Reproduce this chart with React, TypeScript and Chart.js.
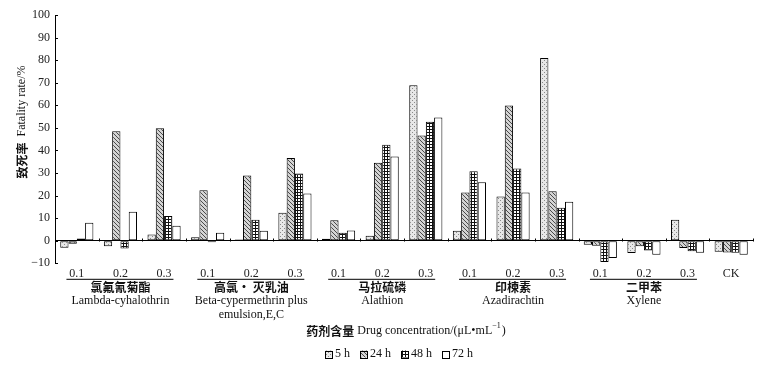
import React, { useEffect, useRef } from 'react';
import { Chart, registerables } from 'chart.js';

Chart.register(...registerables);

// ---------- data ----------
const categories = ['0.1', '0.2', '0.3', '0.1', '0.2', '0.3', '0.1', '0.2', '0.3', '0.1', '0.2', '0.3', '0.1', '0.2', '0.3', 'CK'];
const groupNamesZh = ['氯氟氰菊酯', '高氯· 灭乳油', '马拉硫磷', '印楝素', '二甲苯'];
const groupNamesEn = [['Lambda-cyhalothrin'], ['Beta-cypermethrin plus', 'emulsion,E,C'], ['Alathion'], ['Azadirachtin'], ['Xylene']];
const seriesLabels = ['5 h', '24 h', '48 h', '72 h'];
const h5 = [-3.1, -2.4, 2.8, 1.5, 0.5, 12.4, 0.9, 2.2, 68.9, 4.4, 19.6, 81.0, -1.8, -5.4, 9.3, -4.9];
const h24 = [-1.3, 48.5, 49.8, 22.4, 28.9, 36.7, 9.1, 34.5, 46.6, 21.4, 59.9, 21.9, -2.2, -2.5, -3.2, -5.2];
const h48 = [1.0, -3.4, 10.9, -0.7, 9.3, 29.8, 3.5, 42.5, 52.7, 30.8, 32.0, 14.6, -9.4, -4.3, -4.7, -5.3];
const h72 = [8.0, 12.8, 6.6, 3.5, 4.4, 20.9, 4.5, 37.3, 54.6, 25.9, 21.4, 17.3, -7.6, -6.2, -5.3, -6.2];
const yMin = -10;
const yMax = 100;
const yStep = 10;
const yTitleZh = '致死率';
const yTitleEn = 'Fatality rate/%';
const xTitleZh = '药剂含量';
const xTitleEn = 'Drug concentration/(μL•mL';
const xTitleSup = '−1';
const xTitleEnd = ')';

const SERIF = '"Liberation Serif", "Times New Roman", serif';
const CJK = '"Noto Sans CJK SC", sans-serif';

function makePattern(kind: string): CanvasPattern | string {
  const c = document.createElement('canvas');
  const g = c.getContext('2d')!;
  if (kind === 'dots') {
    c.width = 4; c.height = 4;
    g.fillStyle = '#e8e8e8'; g.fillRect(0, 0, 4, 4);
    g.fillStyle = '#8a8a8a';
    g.fillRect(0, 0, 1, 1); g.fillRect(2, 2, 1, 1);
  } else if (kind === 'diag') {
    c.width = 4; c.height = 4;
    g.fillStyle = '#d4d4d4'; g.fillRect(0, 0, 4, 4);
    g.fillStyle = '#4a4a4a';
    for (let i = 0; i < 4; i++) g.fillRect(i, i, 1, 1);
  } else if (kind === 'grid') {
    c.width = 3; c.height = 3;
    g.fillStyle = '#111'; g.fillRect(0, 0, 3, 3);
    g.fillStyle = '#fff'; g.fillRect(1, 1, 2, 2);
  } else {
    return '#ffffff';
  }
  return g.createPattern(c, 'repeat')!;
}

const decorPlugin = {
  id: 'decor',
  afterDraw(chart: any) {
    const ctx: CanvasRenderingContext2D = chart.ctx;
    const area = chart.chartArea;
    const xs = chart.scales.x;
    const ys = chart.scales.y;
    ctx.save();
    ctx.strokeStyle = '#000';
    ctx.lineWidth = 1;
    // inward y ticks
    ys.ticks.forEach((t: any) => {
      const py = Math.round(ys.getPixelForValue(t.value)) + 0.5;
      ctx.beginPath();
      ctx.moveTo(area.left, py);
      ctx.lineTo(area.left + 3, py);
      ctx.stroke();
    });
    // category boundary ticks on zero line
    const y0 = Math.round(ys.getPixelForValue(0)) + 0.5;
    for (let i = 1; i <= categories.length; i++) {
      const px = Math.round(xs.getPixelForValue(i - 0.5)) + 0.5;
      ctx.beginPath();
      ctx.moveTo(px, y0);
      ctx.lineTo(px, y0 - 3);
      ctx.stroke();
    }
    // group underlines and names
    ctx.fillStyle = '#111';
    ctx.textAlign = 'center';
    ctx.textBaseline = 'middle';
    const lineY = area.bottom + 16;
    for (let gi = 0; gi < groupNamesZh.length; gi++) {
      const cx = xs.getPixelForValue(gi * 3 + 1);
      ctx.strokeStyle = '#333';
      ctx.lineWidth = 1.3;
      ctx.beginPath();
      ctx.moveTo(cx - 54, lineY);
      ctx.lineTo(cx + 53, lineY);
      ctx.stroke();
      ctx.font = `bold 12px ${CJK}`;
      ctx.fillText(groupNamesZh[gi], cx, lineY + 8);
      ctx.font = `12px ${SERIF}`;
      groupNamesEn[gi].forEach((s, k) => {
        ctx.fillText(s, cx, lineY + 22 + k * 14);
      });
    }
    // x title
    const tY = 331;
    ctx.textAlign = 'left';
    ctx.font = `bold 12px ${CJK}`;
    const wZh = ctx.measureText(xTitleZh).width;
    ctx.font = `12px ${SERIF}`;
    const wEn = ctx.measureText(' ' + xTitleEn).width;
    ctx.font = `8px ${SERIF}`;
    const wSup = ctx.measureText(xTitleSup).width;
    ctx.font = `12px ${SERIF}`;
    const wEnd = ctx.measureText(xTitleEnd).width;
    const total = wZh + wEn + wSup + wEnd + 1;
    let tx = 406 - total / 2;
    ctx.font = `bold 12px ${CJK}`;
    ctx.fillText(xTitleZh, tx, tY);
    tx += wZh;
    ctx.font = `12px ${SERIF}`;
    ctx.fillText(' ' + xTitleEn, tx, tY);
    tx += wEn;
    ctx.font = `8px ${SERIF}`;
    ctx.fillText(xTitleSup, tx, tY - 5);
    tx += wSup + 1;
    ctx.font = `12px ${SERIF}`;
    ctx.fillText(xTitleEnd, tx, tY);

    // legend
    const lY = 354;
    const box = 7;
    const ds = chart.data.datasets;
    ctx.font = `12px ${SERIF}`;
    const widths = ds.map((d: any) => box + 3 + ctx.measureText(d.label).width);
    const gap = 10;
    const lTotal = widths.reduce((a: number, b: number) => a + b, 0) + gap * (ds.length - 1);
    let lx = 399 - lTotal / 2;
    ds.forEach((d: any, i: number) => {
      ctx.fillStyle = d.backgroundColor;
      ctx.fillRect(lx, lY - box / 2, box, box);
      ctx.strokeStyle = '#000';
      ctx.lineWidth = 1;
      ctx.strokeRect(Math.round(lx) + 0.5, Math.round(lY - box / 2) + 0.5, box, box);
      ctx.fillStyle = '#111';
      ctx.fillText(d.label, lx + box + 3, lY);
      lx += widths[i] + gap;
    });

    // y title (rotated)
    ctx.save();
    ctx.translate(22, 122);
    ctx.rotate(-Math.PI / 2);
    ctx.font = `bold 12px ${CJK}`;
    const yz = ctx.measureText(yTitleZh).width;
    ctx.font = `12px ${SERIF}`;
    const ye = ctx.measureText('  ' + yTitleEn).width;
    let yx = -(yz + ye) / 2;
    ctx.fillStyle = '#111';
    ctx.font = `bold 12px ${CJK}`;
    ctx.fillText(yTitleZh, yx, 0);
    yx += yz;
    ctx.font = `12px ${SERIF}`;
    ctx.fillText('  ' + yTitleEn, yx, 0);
    ctx.restore();

    ctx.restore();
  },
};

export default function App() {
  const ref = useRef<HTMLCanvasElement>(null);
  useEffect(() => {
    const canvas = ref.current!;
    const kinds = ['dots', 'diag', 'grid', 'white'];
    const series = [h5, h24, h48, h72];
    const chart = new Chart(canvas, {
      type: 'bar',
      data: {
        labels: categories,
        datasets: series.map((d, i) => ({
          label: seriesLabels[i],
          data: d,
          backgroundColor: makePattern(kinds[i]) as any,
          borderColor: '#000',
          borderWidth: 1,
          borderSkipped: false,
          categoryPercentage: 0.76,
          barPercentage: 1.0,
        })),
      },
      options: {
        animation: false,
        responsive: false,
        maintainAspectRatio: false,
        layout: { padding: { top: 15, right: 29, left: 0, bottom: 0 } },
        plugins: {
          legend: { display: false },
          tooltip: { enabled: false },
        },
        scales: {
          x: {
            type: 'category',
            offset: true,
            grid: { display: false, drawTicks: false },
            border: { display: false },
            ticks: {
              font: { family: SERIF, size: 12 },
              color: '#222',
              padding: 3,
              maxRotation: 0,
              autoSkip: false,
            },
            afterFit: (s: any) => { s.height = 372 - 263.3; },
          },
          y: {
            min: yMin,
            max: yMax,
            ticks: {
              stepSize: yStep,
              font: { family: SERIF, size: 12 },
              color: '#222',
              padding: 5,
              callback: (v: any) => String(v).replace('-', '−'),
            },
            grid: {
              drawTicks: false,
              color: (c: any) => (c.tick && c.tick.value === 0 ? '#000' : 'rgba(0,0,0,0)'),
              lineWidth: 1,
            },
            border: { display: true, color: '#000', width: 1 },
            afterFit: (s: any) => { s.width = 55; },
          },
        },
      },
      plugins: [decorPlugin],
    });
    return () => chart.destroy();
  }, []);
  return (
    <div style={{ position: 'fixed', left: 0, top: 0, width: 782, height: 372, background: '#fff' }}>
      <canvas ref={ref} width={782} height={372} style={{ display: 'block' }} />
    </div>
  );
}
